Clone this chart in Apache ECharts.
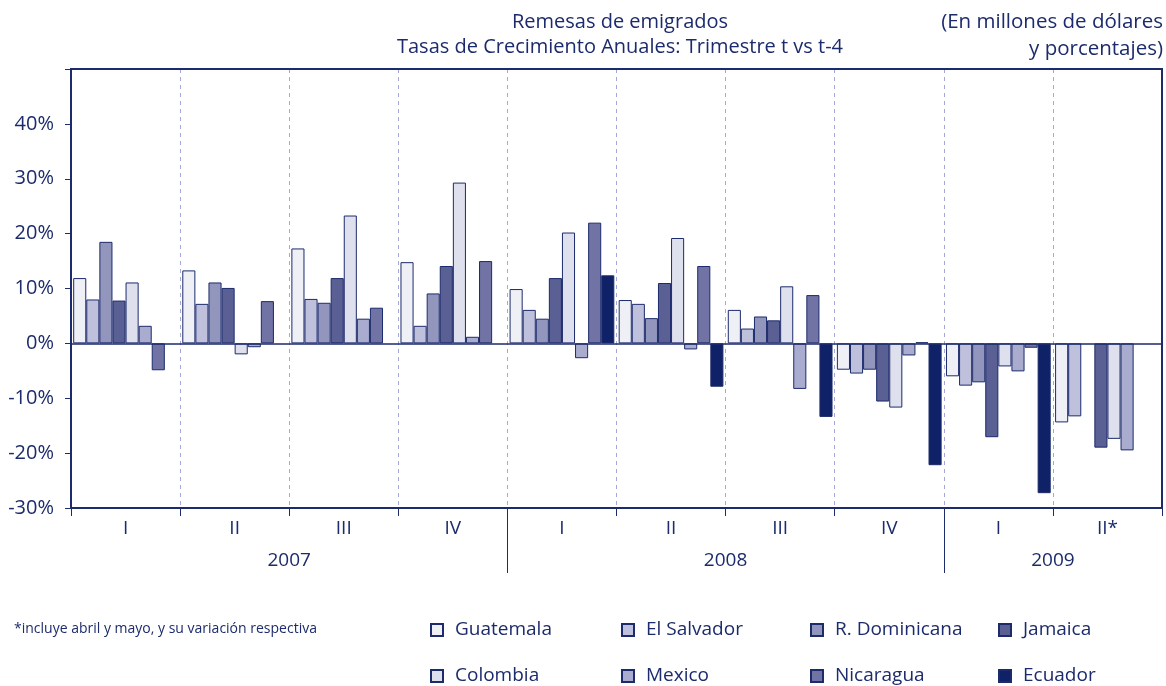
<!DOCTYPE html>
<html>
<head>
<meta charset="utf-8">
<script src="https://cdn.jsdelivr.net/npm/echarts@6/dist/echarts.min.js"></script>
<style>
  html, body { margin: 0; padding: 0; background: #fff; }
  #chart { width: 1166px; height: 686px; }
</style>
</head>
<body>
<div id="chart"></div>
<script>
// trimestres y años
const quarters = ['I', 'II', 'III', 'IV', 'I', 'II', 'III', 'IV', 'I', 'II*']
const yearLabels = ['', '', '', '', '2007', '', '', '', '', '', '', '', '2008', '', '', '', '', '', '2009', '', '']

// tasas de crecimiento (%) por país
const guatemala = [11.9, 13.3, 17.3, 14.8, 9.9, 7.9, 6.1, -4.8, -6.0, -14.4]
const elSalvador = [8.0, 7.2, 8.1, 3.2, 6.1, 7.2, 2.7, -5.5, -7.7, -13.3]
const rDominicana = [18.5, 11.1, 7.4, 9.1, 4.5, 4.6, 4.9, -4.8, -7.1, null]
const jamaica = [7.8, 10.1, 11.9, 14.1, 11.9, 11.0, 4.2, -10.6, -17.1, -19.0]
const colombia = [11.1, -2.0, 23.3, 29.3, 20.2, 19.2, 10.4, -11.7, -4.2, -17.4]
const mexico = [3.2, -0.7, 4.5, 1.2, -2.7, -1.1, -8.3, -2.2, -5.1, -19.5]
const nicaragua = [-4.9, 7.7, 6.5, 15.0, 22.0, 14.1, 8.8, 0.2, -0.8, null]
const ecuador = [null, null, null, null, 12.4, -7.9, -13.4, -22.2, -27.3, null]

const navy = '#1c2b6c'
const font = 'Open Sans'
const fs = 19

const seriesDefs = [
  { name: 'Guatemala', data: guatemala, color: '#efeff6' },
  { name: 'El Salvador', data: elSalvador, color: '#bfc1dc' },
  { name: 'R. Dominicana', data: rDominicana, color: '#9396bc' },
  { name: 'Jamaica', data: jamaica, color: '#5a5f94' },
  { name: 'Colombia', data: colombia, color: '#dfe0ee' },
  { name: 'Mexico', data: mexico, color: '#a9acce' },
  { name: 'Nicaragua', data: nicaragua, color: '#7073a3' },
  { name: 'Ecuador', data: ecuador, color: '#0f2167' },
]

const chart = echarts.init(document.getElementById('chart'))

const series = seriesDefs.map((s, i) => ({
  name: s.name,
  type: 'bar',
  data: s.data,
  barGap: 0,
  barCategoryGap: '4%',
  itemStyle: { color: s.color, borderColor: navy, borderWidth: 1 },
  markLine: i === 0 ? {
    silent: true,
    symbol: ['none', 'none'],
    label: { show: false },
    lineStyle: { color: navy, type: 'solid', width: 1.5 },
    data: [{ yAxis: 0 }],
  } : undefined,
}))

// leyenda: 4 columnas x 2 filas, una leyenda por país
const legendOrder = [
  ['Guatemala', 'El Salvador', 'R. Dominicana', 'Jamaica'],
  ['Colombia', 'Mexico', 'Nicaragua', 'Ecuador'],
]
const legendLeft = [430, 621, 810, 998]
const legendTop = [620, 666]
const legends = []
legendOrder.forEach((row, r) => {
  row.forEach((name, c) => {
    legends.push({
      data: [name],
      left: legendLeft[c],
      top: legendTop[r],
      padding: 0,
      itemWidth: 12,
      itemHeight: 12,
      icon: 'rect',
      selectedMode: false,
      textStyle: { color: navy, fontSize: fs, fontFamily: font, lineHeight: 20, padding: [0, 0, 0, 7] },
    })
  })
})

const titleStyle = { color: navy, fontSize: 20, fontWeight: 'normal', fontFamily: font, lineHeight: 25 }

chart.setOption({
  animation: false,
  textStyle: { fontFamily: font },
  title: [
    {
      text: 'Remesas de emigrados\nTasas de Crecimiento Anuales: Trimestre t vs t-4',
      left: 615,
      top: 5,
      textAlign: 'center',
      textStyle: titleStyle,
    },
    {
      text: '(En millones de dólares',
      left: 1158,
      top: 5,
      textAlign: 'right',
      textStyle: { ...titleStyle, fontSize: 20.5 },
    },
    {
      text: 'y porcentajes)',
      left: 1158,
      top: 32,
      textAlign: 'right',
      textStyle: { ...titleStyle, fontSize: 20.5 },
    },
    {
      text: '*incluye abril y mayo, y su variación respectiva',
      left: 9,
      top: 617,
      textStyle: { color: navy, fontSize: 14, fontWeight: 'normal', fontFamily: font },
    },
  ],
  legend: legends,
  grid: {
    left: 71, right: 4, top: 69, height: 439,
    show: true, borderColor: navy, borderWidth: 2, backgroundColor: 'transparent',
  },
  xAxis: [
    {
      type: 'category',
      data: quarters,
      position: 'bottom',
      axisLine: { onZero: false, lineStyle: { color: navy, width: 2 } },
      axisTick: { show: true, length: 8, lineStyle: { color: navy, width: 1 } },
      axisLabel: { color: navy, fontSize: fs, fontFamily: font, margin: 11 },
      splitLine: { show: true, lineStyle: { color: '#a5a8d4', type: [4, 4], width: 1 } },
    },
    {
      type: 'category',
      data: yearLabels,
      boundaryGap: false,
      position: 'bottom',
      axisLine: { show: false, onZero: false },
      axisTick: {
        show: true,
        length: 65,
        interval: (idx) => idx === 8 || idx === 16,
        lineStyle: { color: navy, width: 1 },
      },
      axisLabel: { interval: 0, color: navy, fontSize: fs, fontFamily: font, margin: 43 },
      splitLine: { show: false },
    },
    {
      type: 'category',
      data: quarters,
      position: 'top',
      axisLine: { show: true, onZero: false, lineStyle: { color: navy, width: 2 } },
      axisTick: { show: false },
      axisLabel: { show: false },
      splitLine: { show: false },
    },
  ],
  yAxis: [
    {
      type: 'value',
      min: -30,
      max: 50,
      interval: 10,
      axisLine: { show: true, onZero: false, lineStyle: { color: navy, width: 2 } },
      axisTick: { show: true, length: 6, lineStyle: { color: navy, width: 1 } },
      axisLabel: {
        color: navy, fontSize: 20, fontFamily: font, margin: 17,
        formatter: (v) => (v === 50 ? '' : v + '%'),
      },
      splitLine: { show: false },
    },
    {
      type: 'value',
      min: -30,
      max: 50,
      interval: 10,
      position: 'right',
      axisLine: { show: true, onZero: false, lineStyle: { color: navy, width: 2 } },
      axisTick: { show: false },
      axisLabel: { show: false },
      splitLine: { show: false },
    },
  ],
  series: series,
})
</script>
</body>
</html>
